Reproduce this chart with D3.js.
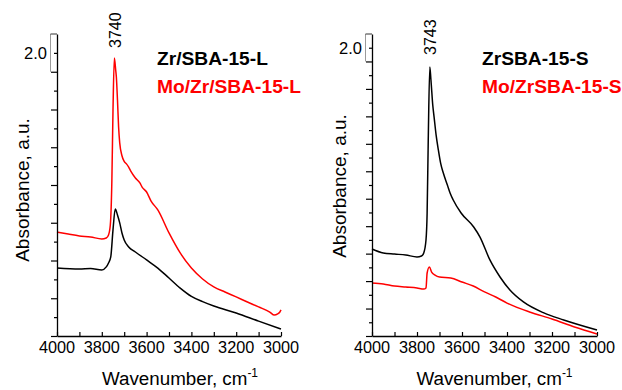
<!DOCTYPE html>
<html>
<head>
<meta charset="utf-8">
<script src="https://cdn.jsdelivr.net/npm/d3@7"></script>
<style>
  html, body { margin: 0; padding: 0; background: #fff; }
  svg { display: block; }
  text { font-family: "Liberation Sans", Arial, sans-serif; }
</style>
</head>
<body>
<svg id="chart" width="622" height="390"></svg>
<script>
// ---------------- DATA ----------------
const xTickValues = [4000, 3800, 3600, 3400, 3200, 3000];
const xMinorTicks = [3900, 3700, 3500, 3300, 3100];
const scaleBarLabel = "2.0";
const xTitle = "Wavenumber, cm";
const yTitle = "Absorbance, a.u.";

// Left panel: Zr/SBA-15-L (black)
const zrL_wn  = [4000, 3900, 3850, 3800, 3780, 3770, 3760, 3750, 3740, 3730, 3720, 3710, 3700, 3680, 3650, 3600, 3550, 3500, 3450, 3400, 3350, 3300, 3200, 3100, 3000];
const zrL_abs = [3.60, 3.55, 3.58, 3.50, 3.66, 3.87, 4.19, 5.62, 6.73, 6.41, 5.99, 5.46, 5.09, 4.72, 4.45, 4.03, 3.60, 3.07, 2.54, 2.10, 1.82, 1.59, 1.22, 0.79, 0.37];
// Left panel: Mo/Zr/SBA-15-L (red)
const moZrL_wn  = [4000, 3950, 3900, 3850, 3800, 3780, 3770, 3762, 3755, 3750, 3744, 3738, 3735, 3730, 3725, 3720, 3710, 3700, 3690, 3680, 3670, 3650, 3630, 3620, 3600, 3580, 3550, 3500, 3450, 3400, 3350, 3300, 3250, 3200, 3150, 3100, 3050, 3030, 3015, 3005, 3000];
const moZrL_abs = [5.51, 5.40, 5.30, 5.25, 5.14, 5.19, 5.35, 5.88, 8.26, 11.97, 14.73, 14.09, 13.72, 12.50, 11.07, 10.23, 9.55, 9.25, 9.12, 8.95, 8.72, 8.37, 8.11, 7.89, 7.63, 7.15, 6.68, 5.46, 4.40, 3.60, 3.02, 2.60, 2.33, 2.07, 1.80, 1.54, 1.27, 1.11, 1.17, 1.27, 1.38];

// Right panel: ZrSBA-15-S (black)
const zrS_wn  = [4000, 3950, 3900, 3850, 3800, 3780, 3770, 3760, 3755, 3750, 3743, 3738, 3730, 3724, 3715, 3705, 3695, 3683, 3665, 3653, 3639, 3604, 3548, 3520, 3476, 3431, 3387, 3327, 3236, 3148, 3000];
const zrS_abs = [6.34, 6.05, 5.97, 5.90, 5.76, 5.83, 6.05, 6.99, 8.96, 14.28, 19.60, 18.65, 16.83, 15.95, 14.64, 13.55, 12.60, 11.87, 11.00, 10.42, 9.91, 8.96, 7.94, 7.21, 5.54, 4.30, 3.35, 2.48, 1.68, 1.17, 0.44];
// Right panel: Mo/ZrSBA-15-S (red)
const moZrS_wn  = [4000, 3950, 3900, 3850, 3800, 3770, 3760, 3755, 3745, 3735, 3720, 3700, 3650, 3600, 3550, 3500, 3450, 3400, 3300, 3200, 3100, 3000];
const moZrS_abs = [3.86, 3.79, 3.64, 3.57, 3.50, 3.42, 3.50, 4.59, 5.03, 4.66, 4.44, 4.30, 4.23, 3.93, 3.64, 3.21, 2.84, 2.40, 1.75, 1.24, 0.66, 0.15];

const panels = [
  { left: 57, right: 281, yMax: 16, peak: 3740, peakLabel: "3740", peakLabelY: 48,
    names: ["Zr/SBA-15-L", "Mo/Zr/SBA-15-L"],
    series: [[zrL_wn, zrL_abs], [moZrL_wn, moZrL_abs]], legendX: 157, yTitleX: 29, yTitleY: 190, titleShift: 11 },
  { left: 372, right: 597, yMax: 22, peak: 3743, peakLabel: "3743", peakLabelY: 55,
    names: ["ZrSBA-15-S", "Mo/ZrSBA-15-S"],
    series: [[zrS_wn, zrS_abs], [moZrS_wn, moZrS_abs]], legendX: 482, yTitleX: 346, yTitleY: 186, titleShift: 10 }
];
const colors = ["#000000", "#ff0000"];

// ---------------- DRAW ----------------
const svg = d3.select("#chart");
const plotTop = 34, plotBottom = 336;

panels.forEach(p => {
  const x = d3.scaleLinear().domain([4000, 3000]).range([p.left, p.right]);
  const y = d3.scaleLinear().domain([0, p.yMax]).range([plotBottom, plotTop]);
  const g = svg.append("g");

  // curves
  p.series.forEach((s, i) => {
    const pts = s[0].map((w, k) => [w, s[1][k]]);
    g.append("path")
      .datum(pts)
      .attr("fill", "none")
      .attr("stroke", colors[i])
      .attr("stroke-width", 1.5)
      .attr("stroke-linejoin", "round")
      .attr("d", d3.line().x(d => x(d[0])).y(d => y(d[1])).curve(d3.curveMonotoneX));
  });

  // y axis (major/minor ticks, no labels)
  const yMajor = d3.range(0, p.yMax + 0.001, 2);
  const yMinor = d3.range(1, p.yMax, 2);
  g.append("g").attr("transform", `translate(${p.left},0)`)
    .call(d3.axisLeft(y).tickValues(yMinor).tickSize(3).tickFormat(""))
    .call(a => a.select(".domain").remove())
    .selectAll("line").attr("stroke-width", 1.2);
  g.append("g").attr("transform", `translate(${p.left},0)`)
    .call(d3.axisLeft(y).tickValues(yMajor.filter(v => v < p.yMax)).tickSize(6).tickFormat("").tickSizeOuter(0))
    .call(a => a.select(".domain").attr("stroke-width", 1.3))
    .selectAll("line").attr("stroke-width", 1.2);

  // scale bar at top of y axis
  const sb0 = p.yMax - 2, sb1 = p.yMax;
  g.append("line")
    .attr("x1", p.left - 6.5).attr("x2", p.left - 6.5)
    .attr("y1", y(sb1)).attr("y2", y(sb0))
    .attr("stroke", "#9a9a9a").attr("stroke-width", 1);
  g.append("line")
    .attr("x1", p.left - 6.5).attr("x2", p.left)
    .attr("y1", y(sb1)).attr("y2", y(sb1))
    .attr("stroke", "#333").attr("stroke-width", 1);
  g.append("text")
    .attr("x", p.left - 10).attr("y", (y(sb0) + y(sb1)) / 2 + 6)
    .attr("text-anchor", "end").attr("font-size", 16.5)
    .text(scaleBarLabel);

  // x axis: ticks inward, labels below
  const xa = g.append("g").attr("transform", `translate(0,${plotBottom})`);
  xa.call(d3.axisTop(x).tickValues(xMinorTicks).tickSize(4).tickFormat("").tickSizeOuter(0))
    .call(a => a.select(".domain").remove())
    .selectAll("line").attr("stroke-width", 1.2);
  const xb = g.append("g").attr("transform", `translate(0,${plotBottom})`);
  xb.call(d3.axisTop(x).tickValues(xTickValues).tickSize(4).tickFormat("").tickSizeOuter(0))
    .call(a => a.select(".domain").attr("stroke-width", 1.3))
    .selectAll("line").attr("stroke-width", 1.2);
  g.selectAll(".xlab").data(xTickValues).enter().append("text")
    .attr("x", d => x(d)).attr("y", plotBottom + 17)
    .attr("text-anchor", "middle").attr("font-size", 16.3)
    .text(d => d);

  // x title with superscript
  const xt = g.append("text")
    .attr("x", (p.left + p.right) / 2 + p.titleShift).attr("y", 385)
    .attr("text-anchor", "middle").attr("font-size", 18.8);
  xt.append("tspan").text(xTitle);
  xt.append("tspan").attr("dy", -8).attr("font-size", 12).text("-1");

  // y title
  g.append("text")
    .attr("transform", `translate(${p.yTitleX},${p.yTitleY}) rotate(-90)`)
    .attr("text-anchor", "middle").attr("font-size", 19)
    .text(yTitle);

  // peak label
  g.append("text")
    .attr("transform", `translate(${x(p.peak) + 6},${p.peakLabelY}) rotate(-90)`)
    .attr("text-anchor", "start").attr("font-size", 16)
    .text(p.peakLabel);

  // legend
  p.names.forEach((n, i) => {
    g.append("text")
      .attr("x", p.legendX).attr("y", 65 + i * 28)
      .attr("font-size", 19.2).attr("font-weight", "bold")
      .attr("fill", colors[i])
      .text(n);
  });
});
</script>
</body>
</html>
